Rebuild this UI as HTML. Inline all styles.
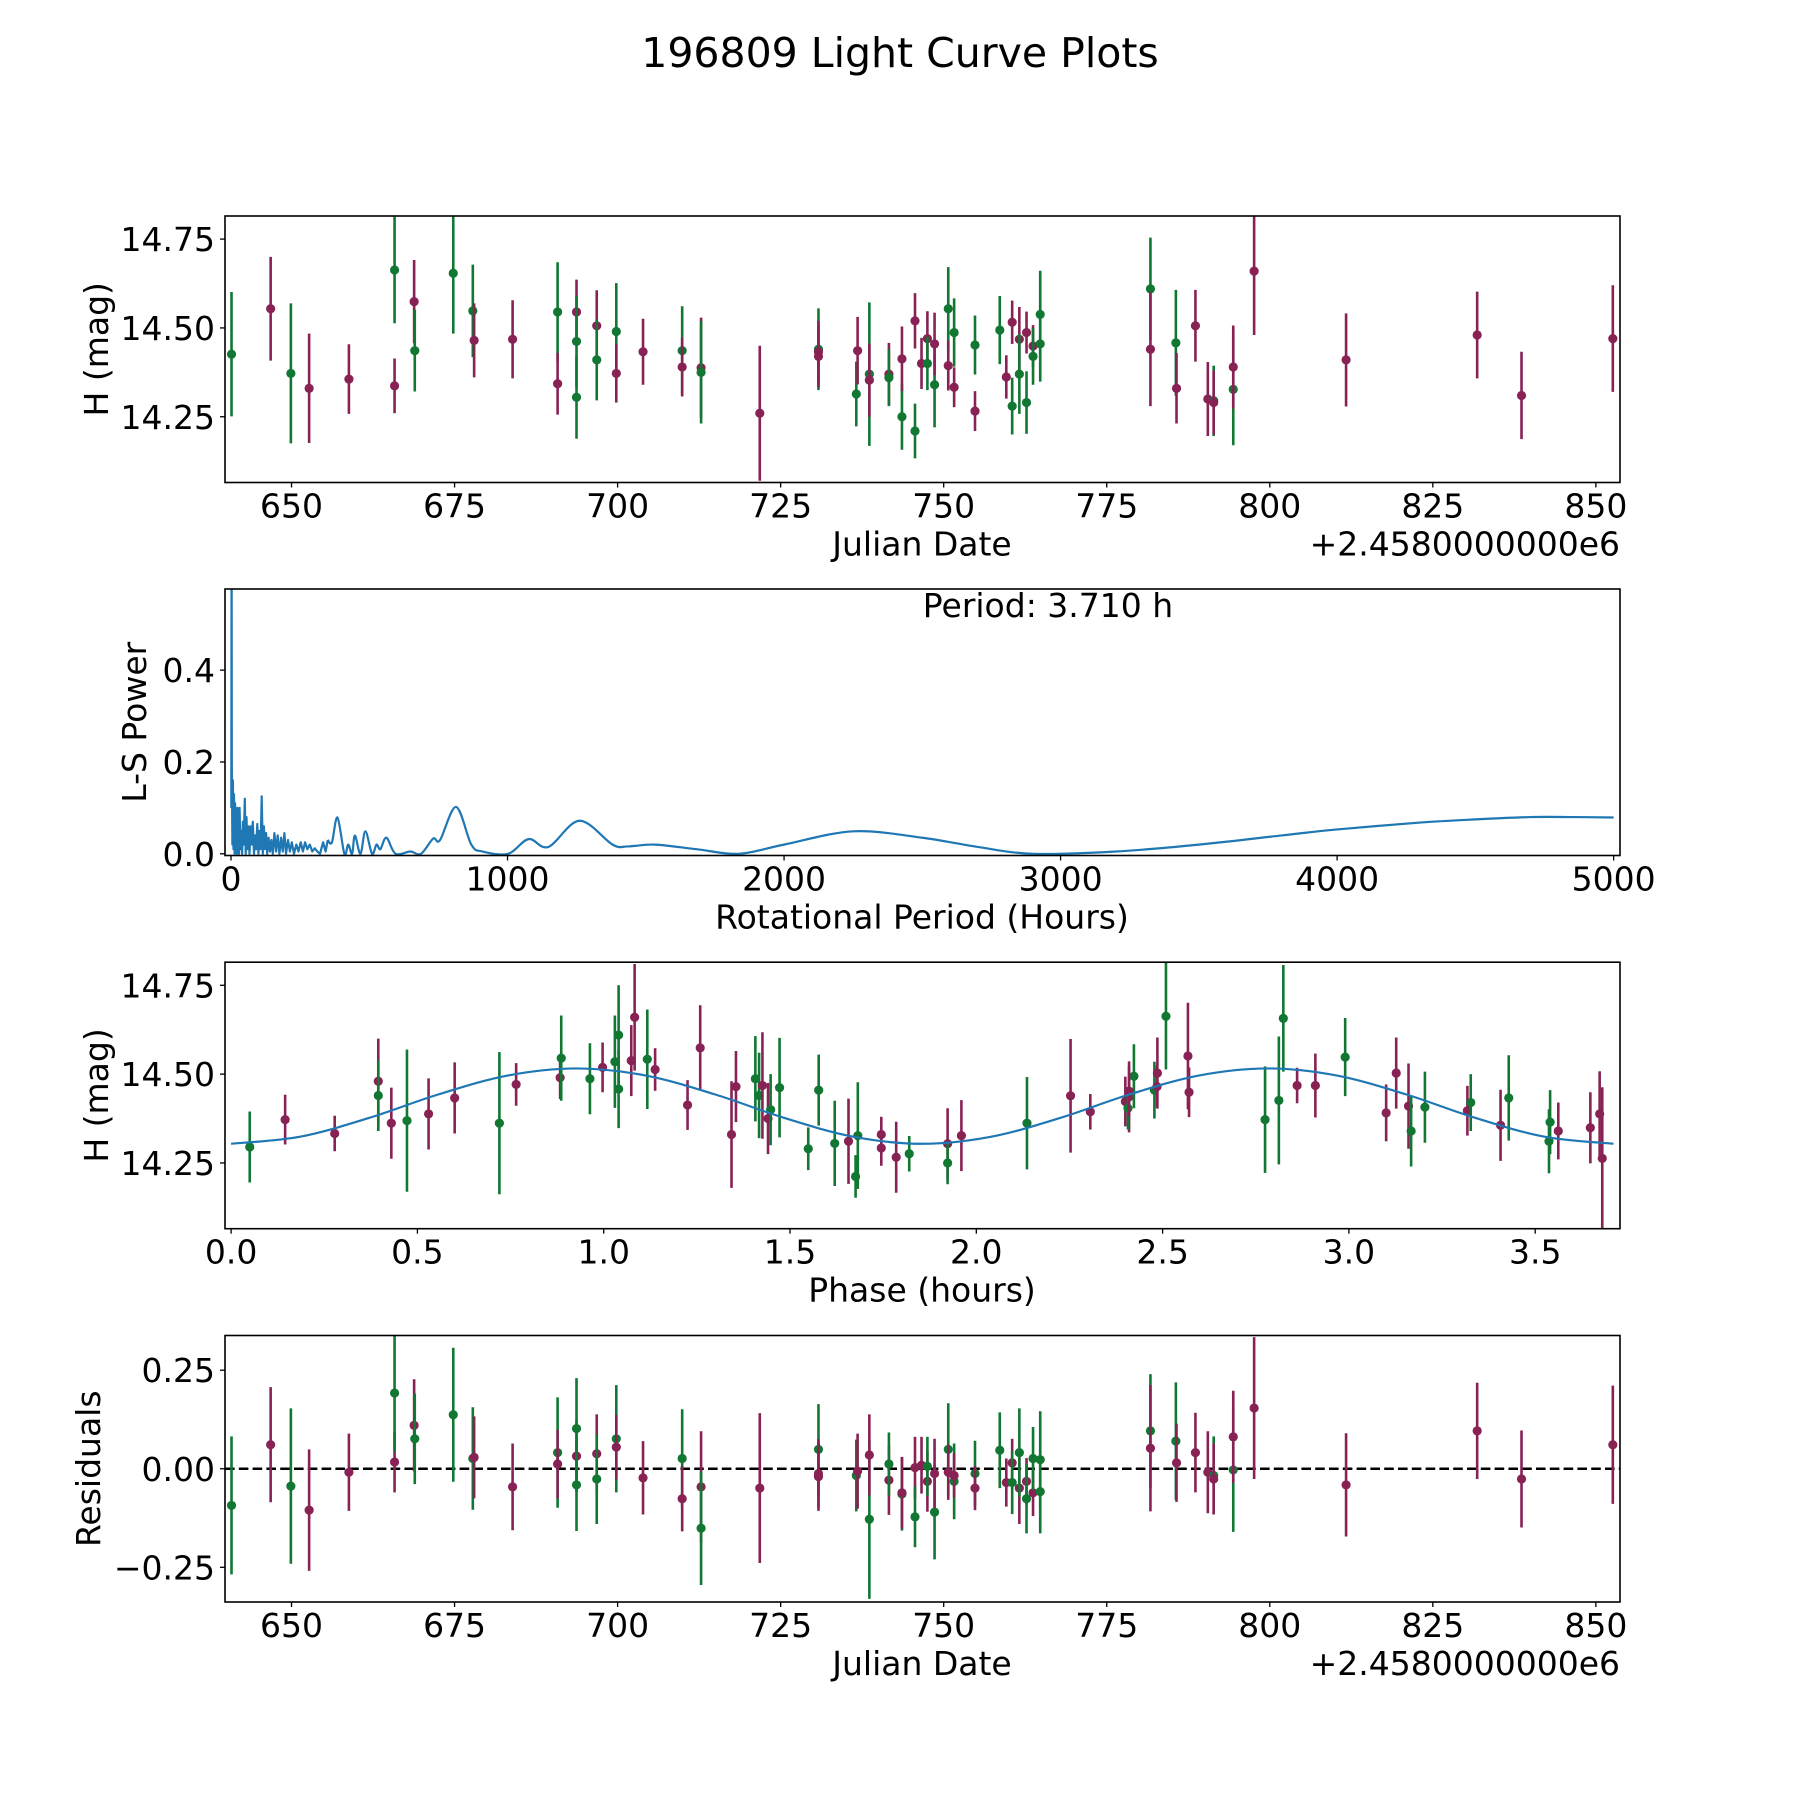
<!DOCTYPE html>
<html><head><meta charset="utf-8"><style>
html,body{margin:0;padding:0;background:#fff;}
svg{display:block;font-family:"DejaVu Sans","Liberation Sans",sans-serif;}
</style></head><body>
<svg id="fig" width="1800" height="1800" viewBox="0 0 1800 1800" xmlns="http://www.w3.org/2000/svg">
<rect width="1800" height="1800" fill="#fff"/>
<text x="900" y="67" font-size="41" text-anchor="middle">196809 Light Curve Plots</text>
</svg>
<script>
// ---- Observation data (top panel and residuals panel share order) ----
const obsDay = [640.8,646.8,649.9,652.7,658.8,665.8,665.8,668.8,668.9,674.8,677.8,678.0,683.9,690.8,690.8,693.7,693.7,693.7,696.8,696.8,699.8,699.8,703.9,709.9,709.9,712.8,712.8,721.8,730.8,730.8,730.8,736.6,736.8,738.6,738.6,741.6,741.6,743.6,743.6,745.6,745.6,746.6,747.5,747.5,748.6,748.6,750.7,750.7,751.6,751.6,754.8,754.8,758.6,759.6,760.5,760.5,761.6,761.6,762.7,762.7,763.7,763.7,764.8,764.8,781.7,781.7,785.6,785.7,788.6,790.5,791.4,791.4,794.4,794.4,797.6,811.7,831.8,838.6,852.6];
const obsMag = [14.426,14.554,14.372,14.33,14.356,14.337,14.663,14.574,14.436,14.654,14.548,14.465,14.468,14.545,14.343,14.545,14.462,14.305,14.506,14.41,14.49,14.372,14.433,14.436,14.39,14.388,14.375,14.26,14.44,14.433,14.42,14.314,14.436,14.37,14.353,14.37,14.36,14.25,14.413,14.52,14.21,14.4,14.47,14.4,14.34,14.455,14.554,14.394,14.487,14.333,14.452,14.266,14.494,14.362,14.516,14.28,14.468,14.37,14.487,14.29,14.449,14.42,14.538,14.455,14.61,14.44,14.458,14.33,14.506,14.3,14.295,14.29,14.327,14.39,14.66,14.41,14.48,14.31,14.47];
const obsErr = [.175,.146,.197,.154,.098,.077,.15,.117,.115,.17,.13,.104,.11,.14,.087,.091,.128,.117,.1,.114,.136,.082,.093,.125,.083,.141,.144,.19,.115,.087,.087,.091,.095,.202,.103,.088,.08,.093,.091,.078,.077,.072,.077,.075,.12,.088,.117,.07,.096,.056,.083,.056,.096,.061,.061,.08,.091,.112,.059,.088,.059,.08,.123,.106,.144,.16,.149,.099,.101,.104,.099,.09,.157,.117,.18,.131,.122,.123,.15];
const obsBand = "gmgmmmgmgg"+"gmmgmmggmg"+"gmmgmmgmgm"+"mgmgmmggmm"+"gmmggmgmgm"+"gmgmmgmgmg"+"mggggmgmmm"+"gmgmmmmmm";
const residVal = [-0.093,0.061,-0.044,-0.105,-0.009,0.017,0.192,0.11,0.076,0.137,0.026,0.029,-0.046,0.041,0.012,0.032,0.102,-0.041,0.038,-0.026,0.076,0.055,-0.023,0.026,-0.076,-0.046,-0.151,-0.049,0.049,-0.012,-0.02,-0.017,-0.006,-0.128,0.035,-0.029,0.012,-0.064,-0.061,0.003,-0.122,0.009,-0.032,0.006,-0.11,-0.012,0.049,-0.009,-0.032,-0.017,-0.012,-0.049,0.047,-0.035,0.015,-0.035,-0.049,0.041,-0.032,-0.076,-0.061,0.026,0.023,-0.058,0.096,0.052,0.07,0.015,0.041,-0.009,-0.017,-0.026,-0.003,0.081,0.154,-0.041,0.096,-0.026,0.061];
// ---- Phase-folded data ----
const phaseVal = [0.05,0.145,0.278,0.395,0.395,0.43,0.472,0.53,0.60,0.72,0.765,0.883,0.886,0.963,0.997,1.03,1.04,1.04,1.074,1.083,1.117,1.138,1.225,1.259,1.343,1.355,1.407,1.417,1.426,1.441,1.448,1.472,1.549,1.577,1.62,1.657,1.676,1.682,1.745,1.745,1.785,1.82,1.923,1.923,1.96,2.136,2.253,2.306,2.4,2.41,2.407,2.423,2.41,2.478,2.486,2.485,2.509,2.568,2.571,2.775,2.812,2.824,2.861,2.91,2.99,3.1,3.127,3.16,3.167,3.204,3.318,3.327,3.407,3.429,3.54,3.537,3.562,3.648,3.673,3.68];
const phaseMag = [14.295,14.372,14.333,14.48,14.44,14.362,14.369,14.388,14.433,14.362,14.471,14.49,14.545,14.487,14.519,14.535,14.61,14.458,14.538,14.66,14.542,14.513,14.413,14.574,14.33,14.465,14.487,14.44,14.468,14.375,14.4,14.462,14.29,14.455,14.305,14.311,14.212,14.327,14.33,14.292,14.266,14.276,14.304,14.25,14.327,14.362,14.439,14.394,14.423,14.436,14.404,14.494,14.452,14.455,14.503,14.465,14.663,14.551,14.449,14.372,14.426,14.657,14.468,14.468,14.548,14.391,14.503,14.41,14.34,14.407,14.397,14.42,14.356,14.433,14.365,14.311,14.34,14.349,14.388,14.263];
const phaseErr = [.1,.07,.05,.12,.1,.1,.2,.1,.1,.2,.06,.06,.12,.1,.07,.13,.14,.11,.1,.15,.14,.06,.07,.12,.15,.1,.12,.12,.15,.1,.1,.14,.06,.1,.12,.12,.06,.15,.05,.05,.1,.05,.1,.06,.1,.13,.16,.05,.07,.1,.06,.09,.07,.08,.1,.06,.15,.15,.07,.15,.18,.15,.05,.09,.11,.08,.1,.12,.1,.1,.07,.08,.1,.12,.09,.09,.08,.1,.12,.2];
const phaseBand = "gmmmgmgmmg"+"mmggmgggmm"+"gmmmmmggmm"+"gggggmggmm"+"mgmgmgmmmm"+"ggmgmmgmmg"+"ggmmgmmmgg"+"mgmgggmmmm";
const fitPhase = [0,0.1855,0.371,0.5565,0.742,0.9275,1.113,1.2985,1.484,1.6695,1.855,2.0405,2.226,2.4115,2.597,2.7825,2.968,3.1535,3.339,3.5245,3.71];
const fitMag = [14.304,14.324,14.377,14.443,14.496,14.516,14.496,14.443,14.377,14.324,14.304,14.324,14.377,14.443,14.496,14.516,14.496,14.443,14.377,14.324,14.304];
// ---- Periodogram (noisy short-period part, then smooth long-period part) ----
const lsPeriodNoisy = [1,2,3,5,7,9,11,13,15,17,19,21,23,25,27,29,31,34,37,40,43,46,50,53,56,59,63,67,71,75,79,83,87,91,95,99,103,107,111,115,119,123,127,131,136,141,146,151,157,163,169,175,181,187,193,199,206,213,220,228,236,244,252,260,268,276,285,294,303,312,322,333,342,350];
const lsPowerNoisy = [0.1,0.7,0.2,0.02,0.16,0.01,0.13,0.0,0.11,0.02,0.09,0.0,0.1,0.03,0.06,0.0,0.1,0.01,0.05,0.0,0.07,0.02,0.12,0.0,0.08,0.01,0.06,0.0,0.06,0.02,0.07,0.0,0.04,0.01,0.065,0.0,0.05,0.01,0.125,0.0,0.06,0.01,0.045,0.0,0.035,0.005,0.03,0.0,0.045,0.005,0.04,0.0,0.035,0.005,0.045,0.0,0.03,0.005,0.025,0.0,0.02,0.005,0.025,0.005,0.025,0.01,0.02,0.005,0.012,0.005,0.0,0.025,0.005,0.03];
const lsPeriodSmooth = [350,365,385,410,424,438,448,468,486,510,526,540,562,595,648,687,731,756,814,869,910,1002,1076,1148,1260,1380,1435,1532,1684,1836,2000,2250,2500,2700,2900,3200,3500,3800,4000,4300,4500,4700,4850,5000];
const lsPowerSmooth = [0.03,0.025,0.079,0.0,0.02,0.0,0.04,0.0,0.049,0.0,0.02,0.01,0.035,0.0,0.005,0.0,0.033,0.03,0.102,0.02,0.005,0.0,0.032,0.015,0.072,0.02,0.016,0.02,0.01,0.0,0.02,0.049,0.035,0.015,0.0,0.005,0.02,0.04,0.053,0.068,0.075,0.08,0.08,0.079];
const periodLabel = "Period: 3.710 h";

const NS="http://www.w3.org/2000/svg";
const svg=document.getElementById('fig');
const GREEN="#117733", MAROON="#882255", BLUE="#1f77b4";
function mk(tag,attrs,parent){const e=document.createElementNS(NS,tag);for(const k in attrs)e.setAttribute(k,attrs[k]);(parent||svg).appendChild(e);return e;}
const L=225,R=1620,H=266.5;
function makeAxes(top,xmin,xmax,ymin,ymax,name){
  const g=mk('g',{});
  
  
  const cid='clip-'+name;
  const cp=mk('clipPath',{id:cid},g);mk('rect',{x:L,y:top,width:R-L,height:H},cp);
  const plot=mk('g',{'clip-path':'url(#'+cid+')'},g);
  return {g,plot,top,sx:v=>L+(v-xmin)/(xmax-xmin)*(R-L),sy:v=>top+H-(v-ymin)/(ymax-ymin)*H};
}
function frame(ax){const f=mk('rect',{x:L,y:ax.top,width:R-L,height:H,fill:'none',stroke:'#000','stroke-width':1.6},ax.g);}
function xticks(ax,vals,labels){vals.forEach((v,i)=>{const x=ax.sx(v);mk('line',{x1:x,x2:x,y1:ax.top+H,y2:ax.top+H+5,stroke:'#000','stroke-width':1.3},ax.g);
  const t=mk('text',{x:x,y:ax.top+H+35,'font-size':33,'text-anchor':'middle'},ax.g);t.textContent=labels[i];
  
  });}
function yticks(ax,vals,labels){vals.forEach((v,i)=>{const y=ax.sy(v);mk('line',{x1:L-5,x2:L,y1:y,y2:y,stroke:'#000','stroke-width':1.3},ax.g);
  const t=mk('text',{x:L-10,y:y+12,'font-size':33,'text-anchor':'end'},ax.g);t.textContent=labels[i];
  
  });}
function label(ax,txt,x,y,rot,anchor,name){const t=mk('text',{x:x,y:y,'font-size':33,'text-anchor':anchor||'middle'},ax.g);
  if(rot)t.setAttribute('transform','rotate(-90 '+x+' '+y+')');t.textContent=txt;
  
  }
function errPoint(ax,x,y,e,color,name){const px=ax.sx(x);
  const ln=mk('line',{x1:px,x2:px,y1:ax.sy(y-e),y2:ax.sy(y+e),stroke:color,'stroke-width':2.6},ax.plot);
  
  
  const c=mk('circle',{cx:px,cy:ax.sy(y),r:4.6,fill:color},ax.plot);
  
  }
function smooth(xs,ys,ax){let s='M'+ax.sx(xs[0])+' '+ax.sy(ys[0]);for(let i=0;i<xs.length-1;i++){const p0=i?i-1:i,p3=i+2<xs.length?i+2:i+1;
 const x1=ax.sx(xs[i])+(ax.sx(xs[i+1])-ax.sx(xs[p0]))/6,y1=ax.sy(ys[i])+(ax.sy(ys[i+1])-ax.sy(ys[p0]))/6;
 const x2=ax.sx(xs[i+1])-(ax.sx(xs[p3])-ax.sx(xs[i]))/6,y2=ax.sy(ys[i+1])-(ax.sy(ys[p3])-ax.sy(ys[i]))/6;
 s+='C'+x1+' '+y1+' '+x2+' '+y2+' '+ax.sx(xs[i+1])+' '+ax.sy(ys[i+1]);}return s;}

const dayTicks=[650,675,700,725,750,775,800,825,850];
const magTicks=[14.25,14.5,14.75];
const XLX=922;
// Panel 1
const a1=makeAxes(216,639.8,853.7,14.065,14.815,'light-curve-panel');
obsDay.forEach((d,i)=>errPoint(a1,d,obsMag[i],obsErr[i],obsBand[i]==='g'?GREEN:MAROON,'observation-point'));
frame(a1);xticks(a1,dayTicks,dayTicks.map(String));yticks(a1,magTicks,['14.25','14.50','14.75']);
label(a1,'Julian Date',XLX,216+H+73,false,'middle','x-axis-title');
label(a1,'+2.4580000000e6',1620,216+H+73,false,'end','x-offset-text');
label(a1,'H (mag)',108,216+H/2,true,'middle','y-axis-title');
// Panel 2
const a2=makeAxes(589,-21.7,5023,-0.0037,0.5767,'periodogram-panel');
let d='';lsPeriodNoisy.forEach((p,i)=>{d+=(i?'L':'M')+a2.sx(p).toFixed(1)+' '+a2.sy(lsPowerNoisy[i]).toFixed(1);});
const pl=mk('path',{d:d,fill:'none',stroke:BLUE,'stroke-width':2.2,'stroke-linejoin':'round'},a2.plot);


const pl2=mk('path',{d:smooth(lsPeriodSmooth,lsPowerSmooth,a2),fill:'none',stroke:BLUE,'stroke-width':2.2},a2.plot);


frame(a2);const pt=[0,1000,2000,3000,4000,5000];xticks(a2,pt,pt.map(String));yticks(a2,[0,0.2,0.4],['0.0','0.2','0.4']);
label(a2,'Rotational Period (Hours)',XLX,589+H+73,false,'middle','x-axis-title');
label(a2,'L-S Power',146,589+H/2,true,'middle','y-axis-title');
label(a2,periodLabel,1048,617,false,'middle','period-annotation');
// Panel 3
const a3=makeAxes(962.2,-0.0164,3.7276,14.065,14.815,'phase-panel');
phaseVal.forEach((p,i)=>errPoint(a3,p,phaseMag[i],phaseErr[i],phaseBand[i]==='g'?GREEN:MAROON,'phase-point'));
const fl=mk('path',{d:smooth(fitPhase,fitMag,a3),fill:'none',stroke:BLUE,'stroke-width':2.2},a3.plot);


frame(a3);const ph=[0,0.5,1,1.5,2,2.5,3,3.5];xticks(a3,ph,ph.map(v=>v.toFixed(1)));yticks(a3,magTicks,['14.25','14.50','14.75']);
label(a3,'Phase (hours)',XLX,962.2+H+73,false,'middle','x-axis-title');
label(a3,'H (mag)',108,962.2+H/2,true,'middle','y-axis-title');
// Panel 4
const a4=makeAxes(1335.5,639.8,853.7,-0.338,0.338,'residuals-panel');
const zl=mk('line',{x1:L,x2:R,y1:a4.sy(0),y2:a4.sy(0),stroke:'#000','stroke-width':2.6,'stroke-dasharray':'9.6 4.2'},a4.plot);


obsDay.forEach((dd,i)=>errPoint(a4,dd,residVal[i],obsErr[i],obsBand[i]==='g'?GREEN:MAROON,'residual-point'));
frame(a4);xticks(a4,dayTicks,dayTicks.map(String));yticks(a4,[-0.25,0,0.25],['\u22120.25','0.00','0.25']);
label(a4,'Julian Date',XLX,1335.5+H+73,false,'middle','x-axis-title');
label(a4,'+2.4580000000e6',1620,1335.5+H+73,false,'end','x-offset-text');
label(a4,'Residuals',100,1335.5+H/2,true,'middle','y-axis-title');
</script>
</body></html>
